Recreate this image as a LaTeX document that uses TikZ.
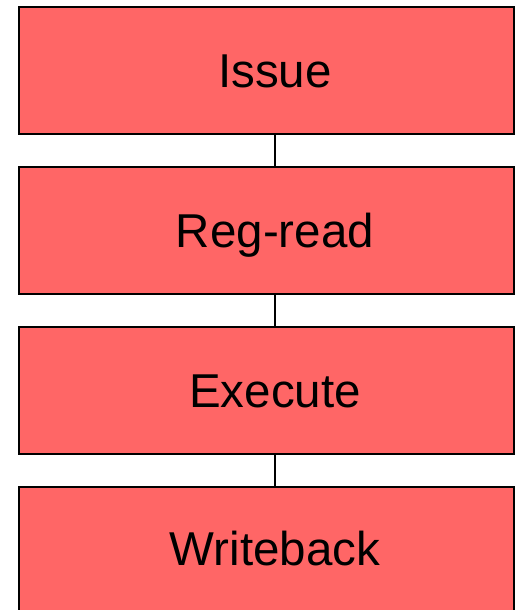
\documentclass[tikz,border=0pt]{standalone}
\usepackage{fontspec}
\setmainfont{Liberation Sans}
\usetikzlibrary{calc}
\definecolor{stagered}{HTML}{FF6666}

\begin{document}
\begin{tikzpicture}[x=1pt, y=1pt,
  stagebox/.style={draw=black, line width=2pt, fill=stagered, rectangle,
    minimum width=495pt, minimum height=127pt, inner sep=0pt},
  stagetext/.style={font=\fontsize{47.5}{57}\selectfont, inner sep=0pt, anchor=base},
  link/.style={draw=black, line width=2pt}]

% 画布大小
\useasboundingbox (0,0) rectangle (515,-610);

% 四个流水级方框
\node[stagebox] (issue)     at (266.5,-70.5)  {};
\node[stagebox] (regread)   at (266.5,-230.5) {};
\node[stagebox] (execute)   at (266.5,-390.5) {};
\node[stagebox] (writeback) at (266.5,-550.5) {};

% 方框中的文字（按基线放置）
\node[stagetext] (issue-t)     at (275,-87.5)  {Issue};
\node[stagetext] (regread-t)   at (275,-247.5) {Reg-read};
\node[stagetext] (execute-t)   at (275,-407.5) {Execute};
\node[stagetext] (writeback-t) at (275,-565)   {Writeback};

% 连接线
\draw[link] (issue-t |- issue.south) -- (issue-t |- regread.north);
\draw[link] (regread-t |- regread.south) -- (regread-t |- execute.north);
\draw[link] (execute-t |- execute.south) -- (execute-t |- writeback.north);

\end{tikzpicture}
\end{document}
